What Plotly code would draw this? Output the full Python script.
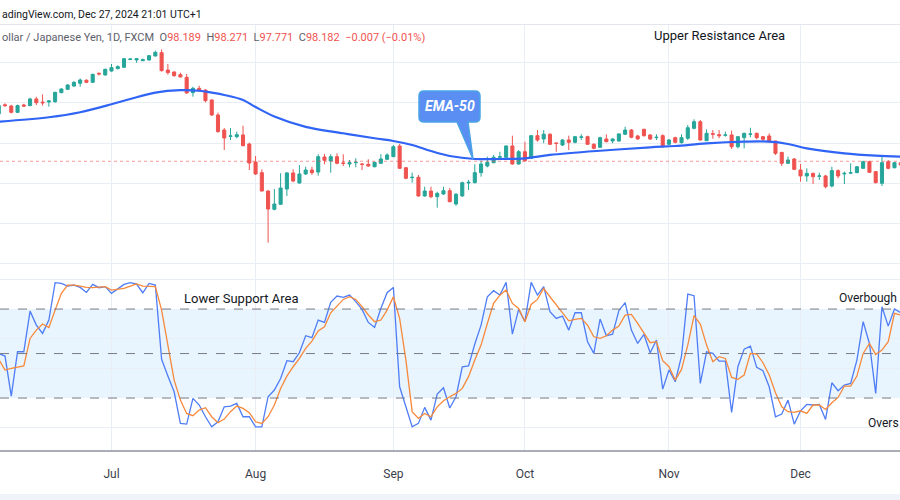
import pandas as pd
import plotly.graph_objects as go

# ---------------- data ----------------
dates = pd.bdate_range("2024-06-05", periods=145).strftime("%Y-%m-%d").tolist()

open_ = [102.89, 103.80, 103.68, 103.05, 103.78, 103.72, 104.38, 104.07, 104.08, 104.11,
         105.01, 105.34, 105.67, 105.94, 106.24, 106.04, 106.93, 106.77, 107.16, 107.40,
         107.53, 108.30, 108.26, 108.19, 108.26, 108.66, 108.99, 107.26, 107.07, 106.80,
         106.53, 105.01, 105.44, 105.27, 104.28, 102.79, 101.29, 100.67, 100.63, 100.80,
         99.90, 98.11, 97.05, 95.22, 93.40, 93.90, 95.42, 97.02, 96.02, 96.92,
         97.31, 97.11, 98.61, 98.21, 98.64, 98.01, 97.91, 98.04, 97.91, 97.88,
         97.64, 97.98, 98.38, 98.64, 99.70, 97.54, 96.55, 96.59, 94.73, 95.22,
         94.66, 94.93, 95.25, 93.93, 94.73, 96.02, 96.05, 97.05, 97.71, 98.04,
         98.58, 98.58, 99.70, 97.91, 99.13, 98.48, 100.73, 100.40, 100.87, 99.99,
         99.80, 100.30, 100.07, 100.57, 100.63, 99.87, 99.57, 100.40, 100.20, 100.20,
         100.87, 101.29, 100.70, 101.36, 100.80, 100.53, 100.73, 99.87, 100.53, 100.03,
         100.47, 101.46, 102.12, 100.23, 100.93, 100.83, 100.77, 100.80, 99.63, 100.53,
         100.87, 100.96, 100.63, 100.70, 100.20, 99.07, 97.98, 98.41, 97.31, 96.72,
         96.98, 96.69, 96.72, 95.72, 97.25, 96.92, 97.00, 97.05, 97.48, 98.14,
         97.15, 95.99, 98.14, 97.54, 98.04]
high = [103.85, 103.95, 103.80, 103.82, 103.90, 104.50, 104.60, 104.84, 104.28, 105.10,
        105.45, 105.85, 106.15, 106.43, 106.35, 106.90, 107.03, 107.40, 107.86, 107.73,
        108.45, 108.42, 108.46, 108.40, 108.75, 109.19, 109.32, 107.86, 107.10, 107.00,
        106.87, 105.60, 105.70, 105.34, 104.35, 103.02, 101.49, 101.49, 101.13, 101.72,
        100.03, 98.71, 97.38, 95.30, 95.42, 96.99, 97.10, 97.38, 97.81, 97.64,
        97.64, 98.88, 98.91, 98.88, 98.98, 98.88, 98.31, 98.48, 97.98, 98.38,
        98.14, 98.88, 98.98, 99.80, 99.90, 97.60, 97.05, 96.82, 95.65, 95.65,
        95.15, 95.65, 95.52, 95.02, 96.15, 96.32, 97.88, 98.24, 98.64, 98.81,
        99.13, 99.77, 100.73, 99.30, 100.13, 100.80, 101.29, 101.29, 100.97, 100.03,
        100.37, 100.73, 100.70, 100.87, 100.73, 99.97, 100.63, 100.87, 100.47, 100.97,
        101.62, 101.39, 100.80, 101.42, 100.87, 100.87, 100.87, 100.40, 100.63, 100.87,
        101.79, 102.36, 102.29, 101.36, 101.29, 101.29, 101.13, 101.23, 100.70, 101.03,
        101.52, 101.03, 100.70, 100.96, 100.23, 99.10, 98.64, 98.50, 97.91, 97.48,
        97.05, 97.05, 96.82, 97.64, 97.38, 97.15, 97.98, 97.70, 98.24, 98.24,
        97.20, 98.64, 98.31, 98.10, 98.10]
low = [102.75, 103.60, 102.95, 102.98, 103.60, 103.65, 103.78, 103.72, 103.62, 104.00,
       104.95, 105.28, 105.60, 105.60, 105.95, 105.98, 106.73, 106.70, 107.10, 107.33,
       107.48, 108.25, 107.99, 108.15, 108.20, 108.60, 107.10, 106.80, 106.60, 106.53,
       104.88, 104.61, 105.11, 104.05, 102.69, 101.03, 99.30, 100.30, 100.47, 99.68,
       97.31, 96.82, 95.20, 90.08, 93.30, 93.85, 94.73, 96.10, 95.95, 96.82,
       96.82, 96.75, 97.88, 97.05, 97.88, 97.71, 97.58, 97.58, 97.31, 97.64,
       97.58, 97.98, 98.31, 98.60, 97.45, 96.40, 96.05, 94.65, 94.66, 94.50,
       93.56, 94.83, 94.10, 93.76, 94.66, 95.32, 95.99, 96.65, 97.58, 97.98,
       98.38, 98.55, 97.85, 97.85, 98.14, 98.45, 100.13, 99.97, 99.82, 99.13,
       99.70, 99.30, 99.97, 100.30, 99.80, 99.37, 99.50, 100.07, 99.97, 100.13,
       100.80, 100.47, 100.33, 100.63, 100.30, 100.30, 99.53, 99.80, 99.97, 99.97,
       100.30, 101.36, 100.23, 100.20, 100.43, 100.47, 100.63, 99.40, 99.47, 99.47,
       100.57, 100.37, 100.13, 100.03, 98.81, 97.71, 97.90, 97.30, 96.15, 96.15,
       95.92, 96.32, 95.49, 95.59, 96.49, 95.92, 96.92, 97.00, 97.45, 97.05,
       95.99, 95.72, 97.38, 97.48, 97.75]
close = [103.72, 103.72, 103.05, 103.72, 103.68, 104.38, 104.01, 104.00, 104.18, 105.04,
         105.37, 105.77, 106.04, 106.27, 106.04, 106.83, 106.87, 107.33, 107.50, 107.60,
         108.39, 108.36, 108.39, 108.29, 108.69, 109.02, 107.20, 107.00, 106.70, 106.57,
         104.98, 105.44, 105.21, 104.21, 102.79, 101.13, 100.50, 100.70, 100.83, 99.73,
         98.01, 96.92, 95.22, 93.43, 93.93, 95.52, 97.02, 96.22, 96.92, 97.31,
         97.05, 98.64, 98.28, 98.64, 97.98, 97.98, 98.04, 98.08, 97.88, 97.71,
         98.08, 98.41, 98.81, 99.63, 97.48, 96.49, 96.59, 94.73, 95.22, 94.66,
         94.99, 95.25, 94.16, 94.90, 96.05, 96.09, 97.05, 97.91, 98.08, 98.58,
         98.64, 99.70, 97.91, 99.13, 98.24, 100.73, 100.30, 100.87, 99.87, 99.97,
         100.30, 100.07, 100.63, 100.60, 99.87, 99.47, 100.53, 100.13, 100.40, 100.90,
         101.29, 100.57, 100.40, 100.73, 100.40, 100.57, 99.73, 100.30, 100.07, 100.53,
         101.52, 102.12, 100.30, 100.96, 100.87, 100.73, 100.80, 99.63, 100.63, 100.96,
         100.90, 100.53, 100.37, 100.13, 98.97, 97.98, 98.31, 97.38, 96.72, 96.98,
         96.65, 96.72, 95.65, 97.25, 96.72, 96.98, 97.05, 97.64, 98.14, 97.08,
         96.05, 98.04, 97.48, 98.04, 97.81]

# EMA-50 read at sample bars
ema_bars = [0, 8, 13, 18, 21, 25, 29, 32, 34, 36, 39, 41, 44, 49, 55, 60, 63, 66, 69, 72,
            76, 80, 84, 88, 96, 104, 108, 113, 119, 123, 126, 129, 135, 140, 144]
ema_vals = [102.12, 102.56, 103.06, 103.85, 104.38, 105.02, 105.26, 105.20, 105.01, 104.78,
            104.28, 103.58, 102.64, 101.61, 100.97, 100.47, 100.20, 99.80, 99.20, 98.71,
            98.41, 98.41, 98.48, 98.81, 99.23, 99.57, 99.70, 99.96, 100.13, 100.13,
            99.90, 99.47, 98.97, 98.74, 98.64]

stoch_k = [50.1, 48.3, 21.3, 51.2, 51.2, 78.6, 69.2, 63.6, 72.6, 97.8,
           97.3, 95.5, 96.2, 94.6, 91.2, 96.6, 94.4, 95.1, 90.6, 93.9,
           96.6, 97.8, 96.9, 91.0, 97.3, 96.2, 46.1, 34.8, 24.2, 2.9,
           2.4, 19.8, 15.3, 7.4, 0.6, 4.0, 14.1, 14.6, 16.4, 7.4,
           7.4, 0.6, 0.6, 20.9, 25.4, 33.2, 45.2, 44.5, 50.5, 62.0,
           60.7, 72.6, 71.0, 84.5, 88.8, 87.9, 89.4, 85.0, 79.8, 71.0,
           67.6, 80.4, 91.0, 94.6, 27.6, 14.1, 0.6, 2.9, 13.7, 5.1,
           22.7, 26.9, 13.3, 20.9, 41.1, 41.6, 56.4, 69.2, 88.3, 92.4,
           89.4, 98.0, 63.1, 79.8, 71.5, 98.0, 89.4, 95.1, 78.2, 73.7,
           75.3, 65.8, 77.5, 77.5, 58.0, 50.1, 73.3, 62.0, 63.1, 78.9,
           84.3, 65.8, 56.8, 62.9, 50.5, 59.1, 26.0, 38.9, 31.0, 48.3,
           90.1, 89.0, 29.9, 51.2, 50.1, 44.9, 44.9, 10.3, 41.1, 53.0,
           55.0, 40.7, 38.4, 27.6, 7.4, 9.2, 18.6, 2.4, 11.4, 15.7,
           15.3, 15.7, 5.6, 30.3, 24.9, 28.7, 29.9, 45.6, 71.5, 56.8,
           23.1, 81.6, 68.5, 80.0, 77.5]
stoch_d = [46.1, 38.9, 40.0, 40.7, 41.6, 60.2, 65.8, 69.9, 67.6, 79.3,
           90.6, 96.2, 96.2, 95.5, 94.6, 94.4, 94.6, 95.1, 92.8, 93.3,
           93.9, 95.5, 96.9, 95.5, 95.5, 95.1, 79.3, 55.7, 32.1, 18.6,
           9.6, 8.1, 11.9, 13.5, 7.4, 3.3, 5.8, 10.8, 14.6, 13.0,
           10.1, 4.0, 2.9, 7.4, 15.3, 26.5, 34.8, 41.1, 46.7, 53.5,
           58.4, 65.2, 68.1, 77.5, 82.0, 86.5, 88.3, 86.5, 81.6, 76.0,
           71.5, 72.6, 79.3, 88.3, 73.7, 45.6, 10.8, 6.3, 9.6, 7.4,
           14.1, 18.2, 20.9, 23.1, 26.5, 34.4, 45.6, 55.7, 70.3, 83.8,
           89.4, 92.8, 83.8, 80.4, 71.5, 83.1, 86.5, 93.9, 88.3, 82.7,
           77.5, 72.1, 73.0, 73.7, 69.2, 61.3, 60.2, 62.0, 65.8, 68.5,
           75.9, 76.4, 70.3, 63.6, 57.3, 58.0, 45.2, 41.1, 32.1, 39.3,
           55.7, 75.5, 69.9, 55.7, 44.5, 47.9, 46.7, 33.9, 32.6, 35.5,
           50.1, 49.7, 43.8, 35.5, 23.6, 14.1, 10.8, 10.3, 11.4, 9.6,
           15.3, 15.3, 12.3, 16.8, 20.4, 28.1, 28.1, 34.8, 50.1, 56.8,
           49.4, 52.3, 58.0, 77.1, 75.9]

month_ticks = ["2024-07-01", "2024-08-01", "2024-09-02", "2024-10-01", "2024-11-01", "2024-12-02"]
month_labels = ["Jul", "Aug", "Sep", "Oct", "Nov", "Dec"]
last_close = 98.182
price_grid = [88, 92, 96, 100, 104, 108]
osc_grid = [0, 40, 60, 100]
osc_levels = [80, 50, 20]

# ---------------- styling ----------------
W, H = 900, 500
GREEN = "#26a69a"
RED = "#ef5350"
GRID = "#e9eef5"
FONT = "Roboto"
TXT = "#131722"


def px(x):
    return x / W


def py(y):
    return 1 - y / H


fig = go.Figure()
fig.add_trace(go.Candlestick(
    x=dates, open=open_, high=high, low=low, close=close,
    xaxis="x", yaxis="y",
    increasing=dict(line=dict(color=GREEN, width=1), fillcolor=GREEN),
    decreasing=dict(line=dict(color=RED, width=1), fillcolor=RED),
    whiskerwidth=0, showlegend=False, hoverinfo="skip"))
fig.add_trace(go.Scatter(
    x=[dates[i] for i in ema_bars], y=ema_vals, mode="lines",
    line=dict(color="#2f64f5", width=2.2, shape="spline", smoothing=1.0),
    xaxis="x", yaxis="y", showlegend=False, hoverinfo="skip"))
fig.add_trace(go.Scatter(
    x=dates, y=stoch_k, mode="lines", line=dict(color="#4f7df6", width=1.3),
    xaxis="x2", yaxis="y2", showlegend=False, hoverinfo="skip"))
fig.add_trace(go.Scatter(
    x=dates, y=stoch_d, mode="lines", line=dict(color="#f7893b", width=1.3),
    xaxis="x2", yaxis="y2", showlegend=False, hoverinfo="skip"))

xr = [0.2, 143.88]
price_top, price_bot = 25, 270
osc_top, osc_bot = 270, 451
y_range_price = [100 - (price_bot - 143) / 10.05, 100 - (price_top - 143) / 10.05]
y_range_osc = [(427.7 - osc_bot) / 1.483, (427.7 - osc_top) / 1.483]

common_x = dict(type="category", range=xr, tickvals=month_ticks, showgrid=True,
                gridcolor=GRID, gridwidth=1, zeroline=False, showline=False, ticks="",
                fixedrange=True)
fig.update_layout(
    width=W, height=H, margin=dict(l=0, r=0, t=0, b=0, autoexpand=False),
    paper_bgcolor="white", plot_bgcolor="white", showlegend=False,
    font=dict(family=FONT, color=TXT),
    xaxis=dict(**common_x, domain=[0, 1], anchor="y", showticklabels=False,
               rangeslider=dict(visible=False)),
    xaxis2=dict(**common_x, domain=[0, 1], anchor="y2", ticktext=month_labels,
                showticklabels=True, tickfont=dict(family=FONT, size=12, color="#3b3e48"),
                ticklabelstandoff=14),
    yaxis=dict(domain=[py(price_bot), py(price_top)], range=y_range_price,
               tickvals=price_grid, showticklabels=False, showgrid=True,
               gridcolor=GRID, zeroline=False, fixedrange=True),
    yaxis2=dict(domain=[py(osc_bot), py(osc_top)], range=y_range_osc,
                tickvals=osc_grid, showticklabels=False, showgrid=True,
                gridcolor=GRID, zeroline=False, fixedrange=True),
)

shapes = []
# oscillator band and levels
shapes.append(dict(type="rect", xref="paper", yref="y2", x0=0, x1=1, y0=20, y1=80,
                   fillcolor="rgba(33,150,243,0.10)", line=dict(width=0), layer="below"))
for lv in osc_levels:
    shapes.append(dict(type="line", xref="paper", yref="y2", x0=0, x1=1, y0=lv, y1=lv,
                       line=dict(color="#787b86", width=1, dash="dash")))
# last price dotted line
shapes.append(dict(type="line", xref="paper", yref="y", x0=0, x1=1, y0=last_close, y1=last_close,
                   line=dict(color="rgba(239,83,80,0.6)", width=1, dash="dot")))
# header separator
shapes.append(dict(type="line", xref="paper", yref="paper", x0=0, x1=1, y0=py(24.5), y1=py(24.5),
                   line=dict(color="#e3e6ec", width=1)))
# time axis line
shapes.append(dict(type="line", xref="paper", yref="paper", x0=0, x1=1, y0=py(451), y1=py(451),
                   line=dict(color="#8f929c", width=1.5)))
# bottom toolbar band
shapes.append(dict(type="rect", xref="paper", yref="paper", x0=0, x1=1, y0=0, y1=py(494),
                   fillcolor="#f0f3fa", line=dict(width=0)))

# EMA-50 callout bubble
pts = [("M", 424, 91), ("L", 475, 91), ("Q", 480, 91, 480, 96), ("L", 480, 117),
       ("Q", 480, 122, 475, 122), ("L", 468, 122), ("L", 473, 159), ("L", 457, 122),
       ("L", 424, 122), ("Q", 419, 122, 419, 117), ("L", 419, 96), ("Q", 419, 91, 424, 91)]
path = ""
for p in pts:
    cmd = p[0]
    coords = p[1:]
    s = []
    for k in range(0, len(coords), 2):
        s.append(f"{px(coords[k]):.5f},{py(coords[k + 1]):.5f}")
    path += cmd + " " + " ".join(s) + " "
path += "Z"
shapes.append(dict(type="path", xref="paper", yref="paper", path=path,
                   fillcolor="#5b8ef2", line=dict(color="#4aa3e6", width=1.5)))
fig.update_layout(shapes=shapes)

red = RED
gray = "#5d606b"
sym = ("ollar / Japanese Yen, 1D, FXCM&nbsp;&nbsp;"
       f"O<span style='color:{red}'>98.189</span>&nbsp;&nbsp;"
       f"H<span style='color:{red}'>98.271</span>&nbsp;&nbsp;"
       f"L<span style='color:{red}'>97.771</span>&nbsp;&nbsp;"
       f"C<span style='color:{red}'>98.182</span>&nbsp;&nbsp;"
       f"<span style='color:{red}'>−0.007 (−0.01%)</span>")

ann = [
    dict(text="adingView.com, Dec 27, 2024 21:01 UTC+1", x=px(0), y=py(14),
         font=dict(size=10.5, color=TXT)),
    dict(text=sym, x=px(0), y=py(38), font=dict(size=11, color=gray)),
    dict(text="Upper Resistance Area", x=px(652), y=py(36), font=dict(size=13, color=TXT)),
    dict(text="Lower Support Area", x=px(182), y=py(298), font=dict(size=13, color=TXT)),
    dict(text="Overbough", x=px(837), y=py(298), font=dict(size=12, color=TXT)),
    dict(text="Overs", x=px(866), y=py(423), font=dict(size=12, color=TXT)),
    dict(text="<b><i>EMA-50</i></b>", x=px(449.5), y=py(106.5), xanchor="center",
         font=dict(size=14, color="white")),
]
for a in ann:
    a.setdefault("xanchor", "left")
    fig.add_annotation(xref="paper", yref="paper", showarrow=False, yanchor="middle", **a)

fig.write_html("out.html", config={"displayModeBar": False},
               post_script="document.body.style.margin='0';document.body.style.overflow='hidden';")
